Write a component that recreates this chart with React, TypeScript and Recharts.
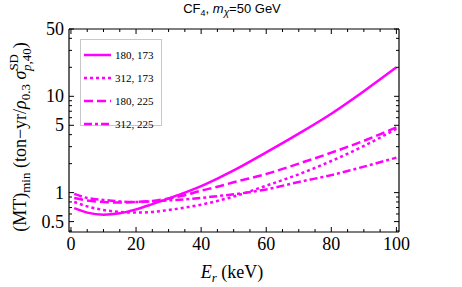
import React from 'react';
import { LineChart, Line, XAxis, YAxis, Legend } from 'recharts';

// recoil energy (keV)
const energies = [1, 5, 10, 15, 20, 25, 30, 35, 40, 45, 50, 60, 70, 80, 90, 100];
// (MT)_min for the four threshold / pressure combos
const mt180_173 = [0.69, 0.62, 0.59, 0.61, 0.67, 0.76, 0.87, 1.0, 1.17, 1.4, 1.7, 2.62, 4.1, 6.6, 11.3, 20];
const mt312_173 = [0.8, 0.72, 0.66, 0.63, 0.62, 0.63, 0.66, 0.7, 0.75, 0.82, 0.91, 1.18, 1.55, 2.13, 3.05, 4.6];
const mt180_225 = [0.88, 0.83, 0.8, 0.79, 0.8, 0.82, 0.87, 0.94, 1.05, 1.15, 1.28, 1.56, 2.0, 2.6, 3.45, 4.75];
const mt312_225 = [0.97, 0.88, 0.84, 0.81, 0.8, 0.81, 0.83, 0.85, 0.88, 0.92, 0.96, 1.08, 1.29, 1.52, 1.86, 2.31];

const seriesLabels = ['180, 173', '312, 173', '180, 225', '312, 225'];
const seriesKeys = ['a', 'b', 'c', 'd'];
const dashes = ['0', '3 3', '9 4', '8 3 3 3'];

const xTicks = [0, 5, 10, 15, 20, 25, 30, 35, 40, 45, 50, 55, 60, 65, 70, 75, 80, 85, 90, 95, 100];
const xLabelled = [0, 20, 40, 60, 80, 100];
const yTicks = [0.4, 0.5, 0.6, 0.7, 0.8, 0.9, 1, 2, 3, 4, 5, 6, 7, 8, 9, 10, 20, 30, 40, 50];
const yLabelled = [0.5, 1, 5, 10, 50];

const data = energies.map((e, i) => ({
  e,
  a: mt180_173[i],
  b: mt312_173[i],
  c: mt180_225[i],
  d: mt312_225[i],
}));

const MAGENTA = '#ff00ff';
const SERIF = '"Liberation Serif", "Times New Roman", serif';

const tickLen = (major: boolean) => (major ? 5 : 3);

const BottomTick = (props: any) => {
  const { x, y, payload } = props;
  const major = xLabelled.includes(payload.value);
  return (
    <g>
      <line x1={x} x2={x} y1={y} y2={y - tickLen(major)} stroke="#000" strokeWidth={1} />
      {major && (
        <text x={x} y={y + 18} textAnchor="middle" fontFamily={SERIF} fontSize={18} fill="#000">
          {payload.value}
        </text>
      )}
    </g>
  );
};

const TopTick = (props: any) => {
  const { x, y, payload } = props;
  const major = xLabelled.includes(payload.value);
  return <line x1={x} x2={x} y1={y} y2={y + tickLen(major)} stroke="#000" strokeWidth={1} />;
};

const LeftTick = (props: any) => {
  const { x, y, payload } = props;
  const major = yLabelled.includes(payload.value);
  return (
    <g>
      <line x1={x} x2={x + tickLen(major)} y1={y} y2={y} stroke="#000" strokeWidth={1} />
      {major && (
        <text x={x - 5} y={y + 6} textAnchor="end" fontFamily={SERIF} fontSize={18} fill="#000">
          {payload.value}
        </text>
      )}
    </g>
  );
};

const RightTick = (props: any) => {
  const { x, y, payload } = props;
  const major = yLabelled.includes(payload.value);
  return <line x1={x} x2={x - tickLen(major)} y1={y} y2={y} stroke="#000" strokeWidth={1} />;
};

const Title = () => (
  <text x={232} y={13} textAnchor="middle" fontFamily='"Liberation Sans", Arial, sans-serif' fontSize={13} fill="#000">
    CF<tspan fontSize={9} dy={3}>4</tspan>
    <tspan dy={-3}>, </tspan>
    <tspan fontStyle="italic">m</tspan>
    <tspan fontSize={10} dy={3} fontStyle="italic">χ</tspan>
    <tspan dy={-3}>=50 GeV</tspan>
  </text>
);

const YTitle = () => (
  <text
    x={0}
    y={0}
    transform="translate(26,137) rotate(-90)"
    textAnchor="middle"
    fontFamily={SERIF}
    fontSize={18}
    fill="#000"
  >
    (MT)<tspan fontSize={13} dy={4}>min</tspan>
    <tspan dy={-4}> (ton−yr/</tspan>
    <tspan fontStyle="italic">ρ</tspan>
    <tspan fontSize={13} dy={4}>0.3</tspan>
    <tspan dy={-4}> </tspan>
    <tspan fontStyle="italic">σ</tspan>
    <tspan fontSize={13} dy={-8}>SD</tspan>
    <tspan fontSize={13} dx={-17} dy={13} fontStyle="italic">p</tspan>
    <tspan fontSize={13}>,40</tspan>
    <tspan dy={-5}>)</tspan>
  </text>
);

const XTitle = () => (
  <text x={232} y={278} textAnchor="middle" fontFamily={SERIF} fontSize={18} fill="#000">
    <tspan fontStyle="italic">E</tspan>
    <tspan fontSize={13} dy={4} fontStyle="italic">r</tspan>
    <tspan dy={-4}> (keV)</tspan>
  </text>
);

const LegendBox = () => (
  <div
    style={{
      width: 82,
      height: 87,
      boxSizing: 'border-box',
      border: '1px solid #c8c8c8',
      background: '#fff',
      paddingTop: 3,
    }}
  >
    {seriesLabels.map((label, i) => (
      <div key={label} style={{ display: 'flex', alignItems: 'center', height: 23 }}>
        <svg width={31} height={10} style={{ marginLeft: 3 }}>
          <line x1={0} x2={27} y1={5} y2={5} stroke={MAGENTA} strokeWidth={2.5} strokeDasharray={dashes[i]} />
        </svg>
        <span style={{ fontFamily: SERIF, fontSize: 11, color: '#000', whiteSpace: 'pre' }}>
          {label}
        </span>
      </div>
    ))}
  </div>
);

export default function App() {
  return (
    <div style={{ position: 'absolute', left: 0, top: 0, width: 462, height: 287, background: '#fff' }}>
      <LineChart width={462} height={287} data={data} margin={{ top: 28, right: 62, bottom: 54, left: 68 }}>
        <XAxis
          dataKey="e"
          type="number"
          domain={[-0.6, 100.8]}
          allowDataOverflow
          ticks={xTicks}
          interval={0}
          height={1}
          tickSize={0}
          tickMargin={0}
          tick={<BottomTick />}
          axisLine={{ stroke: '#000', strokeWidth: 1.2 }}
          label={{ content: () => <XTitle /> }}
        />
        <XAxis
          xAxisId="top"
          orientation="top"
          dataKey="e"
          type="number"
          domain={[-0.6, 100.8]}
          allowDataOverflow
          ticks={xTicks}
          interval={0}
          height={1}
          tickSize={0}
          tickMargin={0}
          tick={<TopTick />}
          axisLine={{ stroke: '#000', strokeWidth: 1.2 }}
          label={{ content: () => <Title /> }}
        />
        <YAxis
          type="number"
          scale="log"
          domain={[0.39, 50]}
          allowDataOverflow
          ticks={yTicks}
          interval={0}
          width={1}
          tickSize={0}
          tickMargin={0}
          tick={<LeftTick />}
          axisLine={{ stroke: '#000', strokeWidth: 1.2 }}
          label={{ content: () => <YTitle /> }}
        />
        <YAxis
          yAxisId="right"
          orientation="right"
          type="number"
          scale="log"
          domain={[0.39, 50]}
          allowDataOverflow
          ticks={yTicks}
          interval={0}
          width={1}
          tickSize={0}
          tickMargin={0}
          tick={<RightTick />}
          axisLine={{ stroke: '#000', strokeWidth: 1.2 }}
        />
        <Legend
          layout="vertical"
          align="center"
          verticalAlign="middle"
          wrapperStyle={{ left: 80, top: 39, width: 82, height: 87 }}
          content={() => <LegendBox />}
        />
        {seriesKeys.map((k, i) => (
          <Line
            key={k}
            type="monotone"
            dataKey={k}
            name={seriesLabels[i]}
            stroke={MAGENTA}
            strokeWidth={2.5}
            strokeDasharray={dashes[i]}
            dot={false}
            activeDot={false}
            isAnimationActive={false}
          />
        ))}
      </LineChart>
    </div>
  );
}
